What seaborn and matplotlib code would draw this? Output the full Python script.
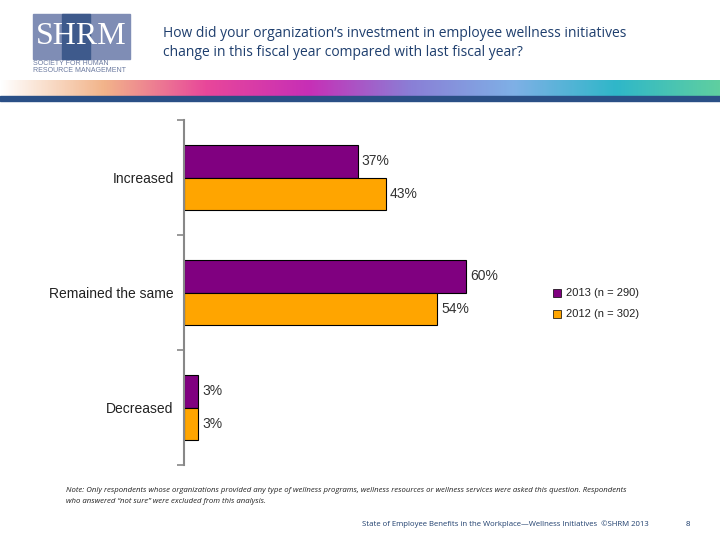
"""SHRM slide: change in employee wellness investment, 2013 vs 2012."""

import matplotlib.pyplot as plt
import numpy as np
import pandas as pd
import seaborn as sns
from matplotlib.colors import LinearSegmentedColormap
from matplotlib.patches import Rectangle

categories = ["Increased", "Remained the same", "Decreased"]
series_names = ["2013 (n = 290)", "2012 (n = 302)"]
values_2013 = [37, 60, 3]
values_2012 = [43, 54, 3]

title = ("How did your organization\u2019s investment in employee wellness initiatives\n"
         "change in this fiscal year compared with last fiscal year?")
note = ("Note: Only respondents whose organizations provided any type of wellness programs, "
        "wellness resources or wellness services were asked this question. Respondents\n"
        "who answered \u201cnot sure\u201d were excluded from this analysis.")
footer = "State of Employee Benefits in the Workplace\u2014Wellness Initiatives  \u00a9SHRM 2013"

PURPLE = "#800080"
ORANGE = "#FFA500"
NAVY = "#1F3F6E"

df = pd.DataFrame({
    "category": categories * 2,
    "value": values_2013 + values_2012,
    "year": [series_names[0]] * 3 + [series_names[1]] * 3,
})

sns.set_style("white")
plt.rcParams["font.family"] = ["Liberation Sans", "DejaVu Sans"]

fig = plt.figure(figsize=(7.2, 5.4), dpi=100)

# header: logo, title, colour band
fig.patches.append(Rectangle((33 / 720, 1 - 59 / 540), 97 / 720, 45 / 540,
                             transform=fig.transFigure, color="#7F8DB5", zorder=1))
fig.patches.append(Rectangle((62 / 720, 1 - 59 / 540), 28 / 720, 45 / 540,
                             transform=fig.transFigure, color="#3E5A8C", zorder=1))
fig.text(81 / 720, 1 - 37 / 540, "SHRM", color="white", fontsize=23, family="Liberation Serif",
         ha="center", va="center", zorder=3)
fig.text(33 / 720, 1 - 67 / 540, "SOCIETY FOR HUMAN\nRESOURCE MANAGEMENT", fontsize=5,
         color="#6B7AA0", va="center", linespacing=1.1)
fig.text(163 / 720, 1 - 43 / 540, title, fontsize=10, color=NAVY, va="center",
         family=["Open Sans", "DejaVu Sans"], linespacing=1.45)

band = fig.add_axes([0, 1 - 97 / 540, 1, 17 / 540])
cmap = LinearSegmentedColormap.from_list(
    "band", ["#FFFFFF", "#F2B48A", "#E8479A", "#C72FB6", "#8A7FD6", "#7FB0E6", "#2FB7C9", "#5FCFA0"])
grad = np.linspace(0, 1, 256)[None, :]
band.imshow(grad, aspect="auto", cmap=cmap, extent=(0, 1, 0, 1))
band.set_axis_off()
fig.patches.append(Rectangle((0, 1 - 101 / 540), 1, 5 / 540, transform=fig.transFigure,
                             color="#2A4F86", zorder=2))

# chart
ax = fig.add_axes([184 / 720, 1 - 465 / 540, 352 / 720, 345 / 540])
sns.barplot(data=df, y="category", x="value", hue="year", orient="h",
            palette=[PURPLE, ORANGE], saturation=1, edgecolor="black", linewidth=0.8,
            width=0.57, ax=ax, legend=False)
ax.set_xlim(0, 75)
ax.set_ylim(2.5, -0.5)
ax.set_xlabel("")
ax.set_ylabel("")
ax.set_xticks([])
ax.set_yticks([-0.5, 0.5, 1.5, 2.5])
ax.set_yticklabels([])
ax.set_yticks(range(len(categories)), minor=True)
ax.set_yticklabels(categories, minor=True, fontsize=10, color="#222222")
ax.tick_params(axis="y", which="major", length=5, width=1.2, color="#888888", left=True)
ax.tick_params(axis="y", which="minor", length=0, pad=7.5)
for side in ["top", "right", "bottom"]:
    ax.spines[side].set_visible(False)
ax.spines["left"].set_color("#888888")
ax.spines["left"].set_linewidth(1.5)

for container in ax.containers:
    ax.bar_label(container, labels=[f"{v:.0f}%" for v in container.datavalues],
                 padding=3, fontsize=10, color="#333333")

# legend
for i, (name, color) in enumerate(zip(series_names, [PURPLE, ORANGE])):
    y = 1 - (293 + 21 * i) / 540
    fig.patches.append(Rectangle((553 / 720, y - 4 / 540), 8 / 720, 8 / 540,
                                 transform=fig.transFigure, facecolor=color,
                                 edgecolor="black", linewidth=0.5))
    fig.text(566 / 720, y, name, fontsize=8, color="#222222", va="center")

# footnote and footer
fig.text(66 / 720, 1 - 496 / 540, note, fontsize=5.6, style="italic", color="#222222",
         va="center", linespacing=1.9, family=["Open Sans", "DejaVu Sans"])
fig.text(362 / 720, 1 - 524 / 540, footer, fontsize=5.6, color=NAVY, va="center",
         family=["Open Sans", "DejaVu Sans"])
fig.text(686 / 720, 1 - 524 / 540, "8", fontsize=5.6, color=NAVY, va="center")

fig.savefig("out.png", dpi=100)
